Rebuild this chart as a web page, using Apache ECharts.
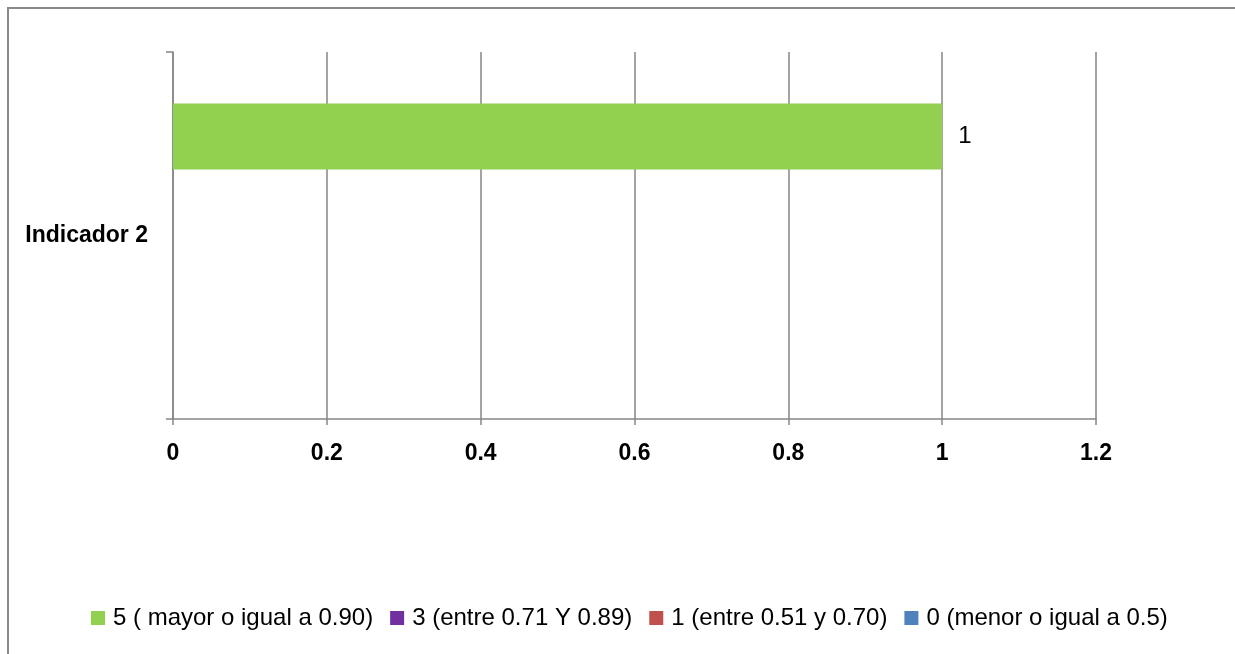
<!DOCTYPE html>
<html>
<head>
<meta charset="utf-8">
<script src="https://cdn.jsdelivr.net/npm/echarts@6/dist/echarts.min.js"></script>
<style>
  html, body { margin: 0; padding: 0; background: #fff; }
  #wrap { position: relative; width: 1235px; height: 654px; overflow: hidden; }
  #frame { position: absolute; left: 7px; top: 7px; width: 1240px; height: 660px;
           border-top: 2px solid #8a8a8a; border-left: 2px solid #8a8a8a; box-sizing: border-box; }
  #chart { position: absolute; left: 0; top: 0; width: 1235px; height: 654px; }
</style>
</head>
<body>
<div id="wrap">
  <div id="frame"></div>
  <div id="chart"></div>
</div>
<script>
const categories = ['Indicador 2'];
const seriesNames = [
  '5 ( mayor o igual a 0.90)',
  '3 (entre 0.71 Y 0.89)',
  '1 (entre 0.51 y 0.70)',
  '0 (menor o igual a 0.5)'
];
const valuesMayor = [1];
const valuesEntre71 = [0];
const valuesEntre51 = [0];
const valuesMenor = [0];
const seriesColors = ['#92D050', '#7030A0', '#C0504D', '#4F81BD'];
const xTicks = { min: 0, max: 1.2, interval: 0.2 };

const seriesValues = [valuesMayor, valuesEntre71, valuesEntre51, valuesMenor];
const font = '"Liberation Sans", Arial, sans-serif';

const chart = echarts.init(document.getElementById('chart'), null, { renderer: 'canvas' });
chart.setOption({
  animation: false,
  backgroundColor: 'transparent',
  textStyle: { fontFamily: font },
  grid: { left: 173, right: 139, top: 52, bottom: 235, containLabel: false },
  legend: {
    data: seriesNames,
    top: 601,
    left: 86,
    itemWidth: 14,
    itemHeight: 14,
    itemGap: 17,
    icon: 'rect',
    textStyle: { fontSize: 24, color: '#000', fontFamily: font, padding: [0, 0, 0, 3] }
  },
  xAxis: {
    type: 'value',
    min: xTicks.min,
    max: xTicks.max,
    interval: xTicks.interval,
    axisLine: { show: true, lineStyle: { color: '#868686', width: 1.5 } },
    axisTick: { show: true, length: 6, lineStyle: { color: '#868686', width: 1.5 } },
    splitLine: { show: true, lineStyle: { color: '#868686', width: 1.5 } },
    axisLabel: {
      margin: 23,
      fontSize: 23,
      fontWeight: 'bold',
      color: '#000',
      fontFamily: font,
      formatter: v => String(Math.round(v * 10) / 10)
    }
  },
  yAxis: {
    type: 'category',
    data: categories,
    inverse: true,
    axisLine: { show: true, lineStyle: { color: '#868686', width: 1.5 } },
    axisTick: { show: true, length: 7, lineStyle: { color: '#868686', width: 1.5 } },
    axisLabel: { margin: 25, fontSize: 23, fontWeight: 'bold', color: '#000', fontFamily: font }
  },
  series: seriesNames.map((name, i) => ({
    name: name,
    type: 'bar',
    data: seriesValues[i],
    barWidth: 66,
    barGap: '0%',
    itemStyle: { color: seriesColors[i] },
    label: i === 0 ? {
      show: true,
      position: 'right',
      distance: 16,
      fontSize: 24,
      color: '#000',
      fontFamily: font
    } : { show: false }
  }))
});
</script>
</body>
</html>
